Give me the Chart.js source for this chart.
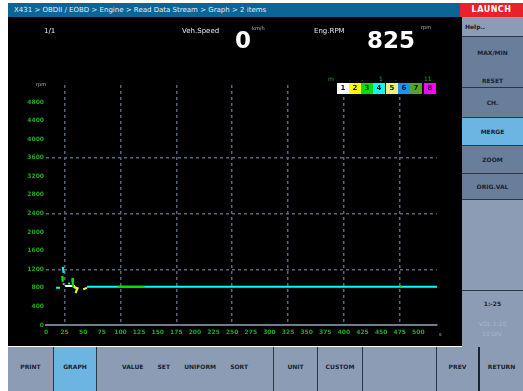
<!DOCTYPE html>
<html>
<head>
<meta charset="utf-8">
<script src="https://cdn.jsdelivr.net/npm/chart.js@4/dist/chart.umd.min.js"></script>
<style>
  body { margin: 0; background: #fff; }
  #screen { position: relative; width: 523px; height: 391px; overflow: hidden; background: #fff;
            font-family: "DejaVu Sans", sans-serif; }
  .abs { position: absolute; }
  #titlebar { left: 8px; top: 3px; width: 452px; height: 14px; background: #0b6596; color: #e8eef4;
              font-size: 7px; line-height: 14px; padding-left: 6px; box-sizing: border-box; white-space: nowrap; }
  #brand { left: 460px; top: 3px; width: 63px; height: 14px; background: #e8212b; color: #fff;
           font: bold 8px "DejaVu Sans", sans-serif; line-height: 14px; text-align: center; letter-spacing: 0.5px; }
  #plotbox { left: 8px; top: 17px; width: 454px; height: 329px; background: #000; }
  .small { color: #e6e6e6; font-size: 7px; white-space: nowrap; }
  .unit { color: #b8bcc4; font-size: 5px; white-space: nowrap; }
  .big { color: #fff; font: bold 23px "DejaVu Sans", sans-serif; line-height: 18px; }
  #legend { left: 337px; top: 83px; display: flex; }
  #legend div { width: 12px; height: 11px; font: bold 7px "DejaVu Sans", sans-serif; color: #111;
                text-align: center; line-height: 11px; }
  #legend div:nth-child(5) { margin-left: 1px; }
  #legend div:nth-child(8) { margin-left: 2px; }
  .glab { color: #2aa82a; font-size: 6px; }
  #panel { left: 462px; top: 17px; width: 61px; height: 330px; background: #8c9cb5; }
  .cell { position: absolute; left: 0; width: 61px; background: #697e9a; border-bottom: 1px solid #2b3546;
          font: bold 6px "DejaVu Sans", sans-serif; color: #1b2230; text-align: center; box-sizing: border-box; }
  .sel { background: #6cb4e2; }
  #bottombar { left: 8px; top: 347px; width: 515px; height: 44px; background: #8c9cb5; }
  .btn { position: absolute; top: 0; height: 44px; border-right: 1px solid #2b3546; box-sizing: border-box;
         font: bold 6px "DejaVu Sans", sans-serif; color: #1b2230; line-height: 40px; text-align: center; }
</style>
</head>
<body>
<div id="screen">
  <div id="titlebar" class="abs">X431 &gt; OBDII / EOBD &gt; Engine &gt; Read Data Stream &gt; Graph &gt; 2 items</div>
  <div id="brand" class="abs">LAUNCH</div>

  <div id="plotbox" class="abs"><canvas id="chart" width="454" height="329"></canvas></div>

  <div class="abs small" style="left:44px;top:27px;">1/1</div>
  <div class="abs small" style="left:182px;top:27px;">Veh.Speed</div>
  <div id="speedValue" class="abs big" style="left:235px;top:31px;"></div>
  <div class="abs unit" style="left:252px;top:25px;">km/h</div>
  <div class="abs small" style="left:314px;top:27px;">Eng.RPM</div>
  <div id="rpmValue" class="abs big" style="left:367px;top:31px;"></div>
  <div class="abs unit" style="left:421px;top:24px;">rpm</div>

  <div class="abs unit" style="left:36px;top:81px;">rpm</div>
  <div class="abs unit" style="left:439px;top:331px;">s</div>

  <div class="abs glab" style="left:328px;top:75px;">m</div>
  <div class="abs glab" style="left:349px;top:75px;">.</div>
  <div class="abs glab" style="left:361px;top:75px;">.</div>
  <div class="abs glab" style="left:379px;top:75px;">1</div>
  <div class="abs glab" style="left:395px;top:75px;">.</div>
  <div class="abs glab" style="left:424px;top:75px;">11</div>
  <div id="legend" class="abs"></div>

  <div id="panel" class="abs">
    <div class="cell" style="top:0;height:20px;background:#8c9cb5;text-align:left;padding-left:3px;line-height:20px;">Help..</div>
    <div class="cell" style="top:20px;height:51px;line-height:14px;padding-top:9px;">MAX/MIN<br><br>RESET</div>
    <div class="cell" style="top:71px;height:30px;line-height:29px;">CH.</div>
    <div class="cell sel" style="top:101px;height:28px;line-height:27px;">MERGE</div>
    <div class="cell" style="top:129px;height:28px;line-height:27px;">ZOOM</div>
    <div class="cell" style="top:157px;height:26px;line-height:25px;">ORIG.VAL</div>
    <div class="cell" style="top:183px;height:91px;background:#8c9cb5;"></div>
    <div class="cell" style="top:274px;height:56px;background:#8c9cb5;border:0;line-height:10px;padding-top:8px;">
      1:-25<br><br><span style="color:#aab6c8;font-weight:normal;">VOL 1:20<br>10 DIV.</span>
    </div>
  </div>

  <div id="bottombar" class="abs">
    <div class="btn" style="left:0;width:46px;">PRINT</div>
    <div class="btn" style="left:46px;width:43px;background:#6cb4e2;">GRAPH</div>
    <div class="btn" style="left:89px;width:177px;word-spacing:12px;">VALUE SET UNIFORM SORT</div>
    <div class="btn" style="left:266px;width:44px;">UNIT</div>
    <div class="btn" style="left:310px;width:45px;">CUSTOM</div>
    <div class="btn" style="left:355px;width:74px;"></div>
    <div class="btn" style="left:429px;width:43px;border-right:2px solid #1b2230;">PREV</div>
    <div class="btn" style="left:472px;width:43px;border:0;">RETURN</div>
  </div>
</div>

<script>
// live readouts shown above the graph
const speedReading = 0;
const rpmReading = 825;

// time axis labels and rpm axis ticks
const xTickLabels = ['0', '25', '50', '75', '100', '125', '150', '175', '200', '225', '250',
                     '275', '300', '325', '350', '375', '400', '425', '450', '475', '500'];
const yTickValues = [0, 400, 800, 1200, 1600, 2000, 2400, 2800, 3200, 3600, 4000, 4400, 4800];

// channel names for the legend strip
const channelNames = ['1', '2', '3', '4', '5', '6', '7', '8'];
const channelColors = ['#ffffff', '#ffff00', '#00e000', '#00ffff', '#f0f080', '#1e90ff', '#5aa030', '#ff00ff'];

// recorded samples (null = no sample / gap)
const rpmTime   = [0.54, 0.75, 0.8, 0.9, 0.95, 1.0, 1.2, 1.28, 1.3, 1.55, 1.65, 1.7, 2.2, 6, 10, 14, 18, 21];
const rpmValues = [800, 800, null, 1250, 1120, null, 905, 880, null, 800, 775, null, 825, 825, 825, 825, 825, 825];

const speedTime   = [0.86, 0.9, 0.95, 1.4, 1.45, 1.5, 3.85, 5.3, 5.35, 19.0, 19.1];
const speedValues = [1050, 930, null, 1010, 820, null, 825, 825, null, 830, 830];

const loadTime   = [0.9, 0.95, 1.0, 1.45, 1.7, 1.58, 1.62, 1.9, 2.0, 2.2];
const loadValues = [880, 880, null, 830, 790, 690, null, null, 770, 800];

const tempTime   = [1.03, 1.55];
const tempValues = [840, 840];

function toPoints(xs, ys) {
  return xs.map((x, i) => ({ x: x, y: ys[i] }));
}

document.getElementById('speedValue').textContent = speedReading;
document.getElementById('rpmValue').textContent = rpmReading;

const legend = document.getElementById('legend');
channelNames.forEach((name, i) => {
  const cell = document.createElement('div');
  cell.style.background = channelColors[i];
  cell.textContent = name;
  legend.appendChild(cell);
});

const gridColor = '#56657a';
const tickFont = { family: 'DejaVu Sans', size: 6, weight: 'bold' };

new Chart(document.getElementById('chart'), {
  type: 'line',
  data: {
    datasets: [
      { label: 'Veh.Speed', data: toPoints(speedTime, speedValues), borderColor: channelColors[2], order: 1 },
      { label: 'Load', data: toPoints(loadTime, loadValues), borderColor: channelColors[1], order: 2 },
      { label: 'Temp', data: toPoints(tempTime, tempValues), borderColor: channelColors[0], order: 3 },
      { label: 'Eng.RPM', data: toPoints(rpmTime, rpmValues), borderColor: channelColors[3], order: 4 }
    ]
  },
  options: {
    responsive: false,
    animation: false,
    spanGaps: false,
    elements: {
      line: { borderWidth: 2, tension: 0 },
      point: { radius: 0 }
    },
    layout: { padding: { left: 0, right: 25, top: 68, bottom: 0 } },
    plugins: { legend: { display: false }, tooltip: { enabled: false } },
    scales: {
      x: {
        type: 'linear',
        min: 0,
        max: 21,
        afterBuildTicks: scale => { scale.ticks = xTickLabels.map((_, i) => ({ value: i })); },
        afterFit: scale => { scale.height = 21; },
        ticks: {
          autoSkip: false,
          maxRotation: 0,
          padding: 4,
          color: '#22a822',
          font: tickFont,
          callback: v => xTickLabels[v]
        },
        grid: {
          drawTicks: false,
          lineWidth: 1.5,
          color: ctx => (ctx.tick && ctx.tick.value % 3 === 1) ? gridColor : 'transparent'
        },
        border: { display: true, color: '#6d7c8e', width: 2, dash: [3, 3] }
      },
      y: {
        min: 0,
        max: 5166,
        afterBuildTicks: scale => { scale.ticks = yTickValues.map(v => ({ value: v })); },
        afterFit: scale => { scale.width = 38; },
        ticks: { padding: 2, color: '#22a822', font: tickFont, callback: v => String(v) },
        grid: {
          drawTicks: false,
          lineWidth: 1.5,
          color: ctx => (ctx.tick && [1200, 2400, 3600].includes(ctx.tick.value)) ? gridColor : 'transparent'
        },
        border: { display: false, dash: [3, 3] }
      }
    }
  }
});
</script>
</body>
</html>
